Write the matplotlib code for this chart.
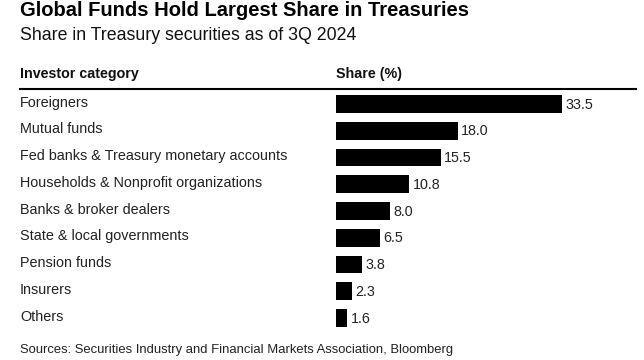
import matplotlib.pyplot as plt
from matplotlib.transforms import blended_transform_factory

plt.rcParams['font.family'] = ['Liberation Sans', 'DejaVu Sans']

categorias = ['Foreigners', 'Mutual funds', 'Fed banks & Treasury monetary accounts',
              'Households & Nonprofit organizations', 'Banks & broker dealers',
              'State & local governments', 'Pension funds', 'Insurers', 'Others']
share = [33.5, 18.0, 15.5, 10.8, 8.0, 6.5, 3.8, 2.3, 1.6]

W, H = 644, 360
fig = plt.figure(figsize=(W / 100, H / 100), dpi=100)
fig.patch.set_facecolor('white')

# eje de barras: x de 336 a 636 px, filas de 90.6 a 331.4 px
ax = fig.add_axes([336 / W, 1 - 331.4 / H, 300 / W, (331.4 - 90.6) / H])
y = list(range(len(categorias)))
ax.barh(y, share, height=0.67, color='black')
ax.set_xlim(0, 300 / 6.75)
ax.set_ylim(len(categorias) - 0.5, -0.5)
ax.axis('off')

for i, v in enumerate(share):
    ax.text(v + 0.55, i + 0.02, f'{v:.1f}', ha='left', va='center', fontsize=10.3, color='#222222')

trans = blended_transform_factory(fig.transFigure, ax.transData)
for i, c in enumerate(categorias):
    ax.text(20 / W, i - 0.05, c, transform=trans, ha='left', va='center',
            fontsize=10.4, color='#222222')

# títulos y encabezados
fig.text(20 / W, 1 - 11 / H, 'Global Funds Hold Largest Share in Treasuries',
         fontsize=14.5, fontweight='bold', ha='left', va='center', color='black')
fig.text(20 / W, 1 - 35 / H, 'Share in Treasury securities as of 3Q 2024',
         fontsize=12.8, ha='left', va='center', color='#111111')
fig.text(20 / W, 1 - 74 / H, 'Investor category', fontsize=10.3, fontweight='bold',
         ha='left', va='center', color='#111111')
fig.text(336 / W, 1 - 74 / H, 'Share (%)', fontsize=10.3, fontweight='bold',
         ha='left', va='center', color='#111111')
fig.add_artist(plt.Line2D([20 / W, 636 / W], [1 - 89 / H, 1 - 89 / H],
                          color='black', linewidth=1.5, transform=fig.transFigure))
fig.text(20 / W, 1 - 350 / H,
         'Sources: Securities Industry and Financial Markets Association, Bloomberg',
         fontsize=9.35, ha='left', va='center', color='#222222')

plt.savefig('out.png', dpi=100, facecolor='white')
plt.close()
